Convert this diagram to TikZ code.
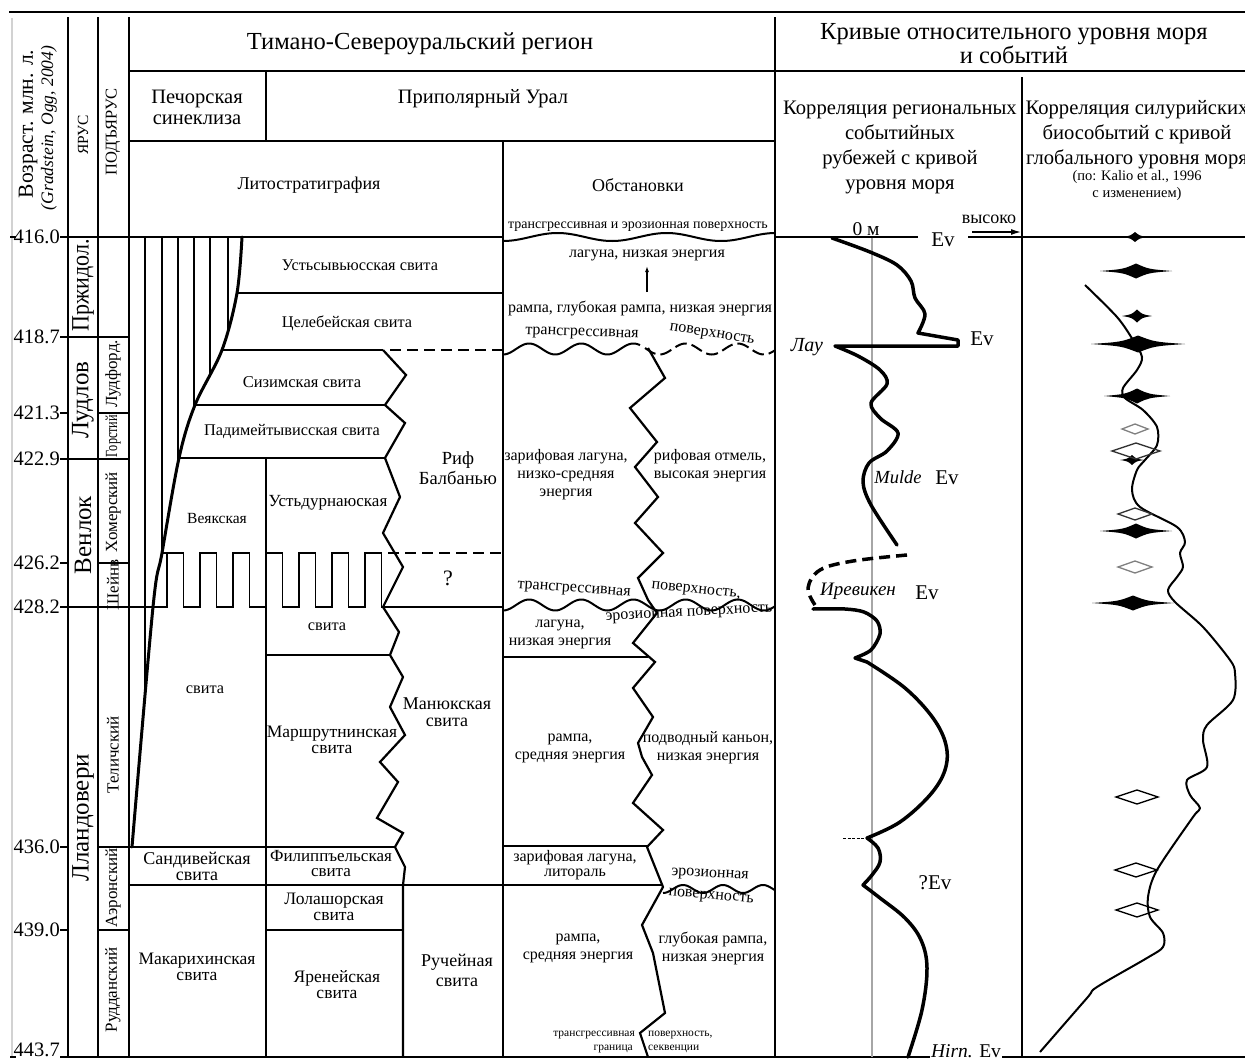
\documentclass[tikz,border=0pt]{standalone}
\usepackage{fontspec}
\setmainfont{Liberation Serif}
\usepackage{graphicx}
\usetikzlibrary{arrows.meta}
\newcommand\fsz[2]{\fontsize{#1}{#2}\selectfont}
\newcommand\lensF[4]{\fill ({#1-#3},#2) .. controls ({#1-0.35*#3},{#2-0.25*#4}) .. (#1,{#2-#4}) .. controls ({#1+0.35*#3},{#2-0.25*#4}) .. ({#1+#3},#2) .. controls ({#1+0.35*#3},{#2+0.25*#4}) .. (#1,{#2+#4}) .. controls ({#1-0.35*#3},{#2+0.25*#4}) .. cycle;}
\newcommand\lensO[5]{\draw[#5, line width=1.3pt, line join=miter] ({#1-#3},#2) -- (#1,{#2-#4}) -- ({#1+#3},#2) -- (#1,{#2+#4}) -- cycle;}
\begin{document}
\begin{tikzpicture}[x=1pt,y=-1pt,
  bl/.style={line width=2pt},
  hatch/.style={line width=1.2pt},
  thk/.style={line width=3pt, line join=round, line cap=round},
  zz/.style={line width=2.2pt, line join=miter},
  dsh/.style={line width=2pt, dash pattern=on 11pt off 6pt},
  sea/.style={line width=3.5pt, line join=round, line cap=round},
  glob/.style={line width=2pt, line join=round},
  t/.style={inner sep=0pt, align=center, font=\fsz{16.3}{17}},
  tl/.style={inner sep=0pt, align=center, font=\fsz{17.5}{16}},
  hd/.style={inner sep=0pt, align=center, font=\fsz{20.5}{21}},
  age/.style={inner sep=0pt, anchor=east, font=\fsz{20.5}{20.5}},
  st/.style={inner sep=0pt, rotate=90, font=\fsz{25}{25}},
  sst/.style={inner sep=0pt, rotate=90, font=\fsz{17}{17}},
  ev/.style={inner sep=0pt, font=\fsz{21}{21}},
  evi/.style={inner sep=0pt, font=\fsz{19}{19}\itshape},
  ob/.style={inner sep=0pt, align=center, font=\fsz{16}{18}}
]
\clip (0,0) rectangle (1245,1060);
\fill[white] (0,0) rectangle (1245,1060);

% ---------- frame ----------
\draw[gray!35, line width=2.5pt] (12,18) -- (12,1057);
\draw[bl] (9,12) -- (1245,12);
\foreach \xx in {68,98,129,775} \draw[bl] (\xx,17) -- (\xx,1057);
\draw[bl] (129,71) -- (1245,71);
\draw[bl] (129,141) -- (775,141);
\draw[bl] (266,71) -- (266,141);
\draw[bl] (503,141) -- (503,1057);
\draw[bl] (1022,77) -- (1022,1057);
\draw[bl] (60,1057) -- (1245,1057);
\draw[bl] (10,237) -- (16,237);
\draw[bl] (10,1057) -- (16,1057);

% age ticks and stage lines
\draw[bl] (60,237) -- (503,237);
\draw[bl] (60,337) -- (129,337);
\draw[bl] (60,413) -- (68,413) (98,413) -- (129,413);
\draw[bl] (60,459) -- (129,459);
\draw[bl] (60,563) -- (68,563) (98,563) -- (129,563);
\draw[bl] (60,607) -- (153,607);
\draw[bl] (60,847) -- (68,847) (98,847) -- (395,847);
\draw[bl] (60,930) -- (68,930) (98,930) -- (129,930);

% ---------- header texts ----------
\node[inner sep=0pt, font=\fsz{24.5}{24.5}] (hT) at (420,44) {Тимано-Североуральский регион};
\node[inner sep=0pt, align=center, font=\fsz{24.5}{22}] (hK) at (1014,44) {Кривые относительного уровня моря\\и событий};
\node[hd] (hPe) at (197,107) {Печорская\\синеклиза};
\node[hd] (hPr) at (483,99) {Приполярный Урал};
\node[inner sep=0pt, font=\fsz{18}{18}] (hL) at (309,185) {Литостратиграфия};
\node[inner sep=0pt, font=\fsz{18}{18}] (hO) at (638,185) {Обстановки};
\node[inner sep=0pt, align=center, font=\fsz{20.6}{25}] (hR) at (900,147) {Корреляция региональных\\событийных\\рубежей с кривой\\уровня моря};
\node[inner sep=0pt, align=center, font=\fsz{20.6}{25}] (hG) at (1137,135) {Корреляция силурийских\\биособытий с кривой\\глобального уровня моря};
\node[inner sep=0pt, align=center, font=\fsz{14.5}{17}] (hG2) at (1137,186) {(по: Kalio et al., 1996\\с изменением)};
\node[inner sep=0pt, rotate=90, font=\fsz{21.5}{21.5}] (hV1) at (28,124) {Возраст. млн. л.};
\node[inner sep=0pt, rotate=90, font=\fsz{17.5}{17.5}\itshape] (hV2) at (49,128) {(Gradstein, Ogg, 2004)};
\node[inner sep=0pt, rotate=90, font=\fsz{15.5}{15.5}] (hY) at (83,135) {ЯРУС};
\node[inner sep=0pt, rotate=90, font=\fsz{16.5}{16.5}] (hPY) at (113,132) {ПОДЪЯРУС};

% ---------- ages ----------
\node[age] (a1) at (60,237) {416.0};
\node[age] (a2) at (60,337) {418.7};
\node[age] (a3) at (60,413) {421.3};
\node[age] (a4) at (60,459) {422.9};
\node[age] (a5) at (60,563) {426.2};
\node[age] (a6) at (60,607) {428.2};
\node[age] (a7) at (60,847) {436.0};
\node[age] (a8) at (60,930) {439.0};
\node[age] (a9) at (60,1050) {443.7};

% ---------- stages ----------
\node[st] (s1) at (83,285) {\scalebox{0.88}[1]{Пржидол.}};
\node[st] (s2) at (83,400) {Лудлов};
\node[st] (s3) at (83,535) {Венлок};
\node[st] (s4) at (83,818) {Лландовери};
\node[sst] (u1) at (113,374) {Лудфорд.};
\node[sst] (u2) at (113,436) {\scalebox{0.72}[1]{Горстий}};
\node[sst] (u3) at (113,512) {Хомерский};
\node[sst] (u4) at (113,585) {Шейнв};
\node[sst] (u5) at (113,755) {Теличский};
\node[sst] (u6) at (113,888) {Аэронский};
\node[sst] (u7) at (113,990) {Рудданский};

% ---------- lithostratigraphy ----------
\begin{scope}
\clip (129,237) -- plot[smooth, tension=0.55] coordinates {(242,237) (237,293) (222,350) (195,405) (179,458) (162,553) (153,607) (132,847)} -- (129,847) -- cycle;
\foreach \xx in {145,162,178,194,210,228} \draw[hatch] (\xx,237) -- (\xx,850);
\end{scope}
\draw[thk] plot[smooth, tension=0.55] coordinates {(242,237) (237,293) (222,350) (195,405) (179,458) (162,553) (153,607) (132,847)};

\draw[bl] (237,293) -- (503,293);
\draw[bl] (222,350) -- (383,350);
\draw[dsh] (390,350) -- (503,350);
\draw[bl] (195,405) -- (385,405);
\draw[bl] (179,458) -- (385,458);
\draw[bl] (266,458) -- (266,1057);
\draw[dsh] (388,553) -- (503,553);
\draw[hatch] (162,553) -- (167,553);
\draw[hatch, line join=miter] (153,607) -- (167,607)
  \foreach \i in {0,2,...,12} { -- ({167+16.5*\i},553) -- ({167+16.5*(\i+1)},553) -- ({167+16.5*(\i+1)},607) -- ({167+16.5*(\i+2)},607) };
\draw[bl] (383,607) -- (503,607);
\draw[bl] (266,655) -- (390,655);
\draw[bl] (129,885) -- (663,885);
\draw[bl] (266,930) -- (403,930);
\draw[zz] (383,350) -- (406,375) -- (385,405) -- (405,423) -- (385,458) -- (400,497) -- (383,533) -- (403,567) -- (383,607) -- (399,632) -- (390,655) -- (403,677) -- (390,707) -- (405,735) -- (380,762) -- (398,782) -- (377,818) -- (403,833) -- (395,847) -- (405,867) -- (403,885) -- (403,1057);

\node[t] (l1) at (360,265) {Устьсывьюсская свита};
\node[t] (l2) at (347,323) {Целебейская свита};
\node[t, font=\fsz{16.5}{17}] (l3) at (302,382) {Сизимская свита};
\node[t] (l4) at (292,431) {Падимейтывисская свита};
\node[inner sep=0pt, align=center, font=\fsz{18.5}{20}] (l5) at (458,468) {Риф\\Балбанью};
\node[t, font=\fsz{15.5}{16}] (l6) at (217,518) {Веякская};
\node[t, font=\fsz{17}{17}] (l7) at (328,503) {Устьдурнаюская};
\node[inner sep=0pt, font=\fsz{22}{22}] (l8) at (448,578) {?};
\node[t] (l9) at (327,627) {свита};
\node[t] (l10) at (205,690) {свита};
\node[tl] (l11) at (332,740) {Маршрутнинская\\свита};
\node[tl, font=\fsz{18}{17}] (l12) at (447,712) {Манюкская\\свита};
\node[tl, font=\fsz{18}{16}] (l13) at (197,866) {Сандивейская\\свита};
\node[tl, font=\fsz{17}{15}] (l14) at (331,864) {Филиппъельская\\свита};
\node[tl] (l15) at (334,907) {Лолашорская\\свита};
\node[tl] (l16) at (197,967) {Макарихинская\\свита};
\node[tl] (l17) at (337,985) {Яренейская\\свита};
\node[tl, font=\fsz{18}{20}] (l18) at (457,970) {Ручейная\\свита};

% ---------- obstanovki ----------
\draw[bl] plot[domain=503:775, samples=150] (\x,{237+4*sin(3.3*(\x-503)+90)});
\draw[bl] plot[domain=503:640, samples=120] (\x,{349+5.5*sin(6.9*(\x-503)+90)});
\draw[bl, dash pattern=on 12pt off 5pt] plot[domain=645:775, samples=120] (\x,{349+5.5*sin(6.9*(\x-503)+90)});
\draw[bl] plot[domain=503:775, samples=160] (\x,{605+5.5*sin(6.9*(\x-503)+90)});
\draw[bl] plot[domain=663:775, samples=80] (\x,{889+4*sin(9*(\x-663)+90)});
\draw[bl] (503,657) -- (648,657);
\draw[bl] (503,846) -- (647,846);
\draw[zz] (648,348) -- (665,378) -- (630,408) -- (657,442) -- (635,467) -- (658,497) -- (635,523) -- (663,553) -- (638,578) -- (648,600) -- (657,613) -- (633,643) -- (655,662) -- (633,688) -- (653,717) -- (638,743) -- (642,757) -- (652,775) -- (633,803) -- (663,830) -- (647,847) -- (663,887) -- (642,925) -- (653,953) -- (665,1013) -- (640,1033) -- (648,1057);

\node[inner sep=0pt, font=\fsz{14}{14}] (o0) at (638,227) {трансгрессивная и эрозионная поверхность};
\node[ob] (o1) at (647,255) {лагуна, низкая энергия};
\coordinate (ar1) at (647,292);
\coordinate (ar2) at (647,266);
\draw[line width=1.2pt, -{Latex[length=6pt,width=4pt]}] (ar1) -- (ar2);
\node[ob] (o2) at (640,308) {рампа, глубокая рампа, низкая энергия};
\node[ob, rotate=-2] (o3) at (582,334) {трансгрессивная};
\node[ob, rotate=-9] (o4) at (712,335) {поверхность};
\node[ob] (o5) at (566,475) {зарифовая лагуна,\\низко-средняя\\энергия};
\node[ob] (o6) at (710,466) {рифовая отмель,\\высокая энергия};
\node[ob, rotate=-4] (o7) at (574,590) {трансгрессивная};
\node[ob, rotate=-6] (o8) at (696,591) {поверхность,};
\node[ob, rotate=3] (o9) at (689,614) {эрозионная поверхность};
\node[ob] (o10) at (560,634) {лагуна,\\низкая энергия};
\node[ob] (o11) at (570,748) {рампа,\\средняя энергия};
\node[ob] (o12) at (708,748) {подводный каньон,\\низкая энергия};
\node[ob, font=\fsz{16}{15}] (o13) at (575,865) {зарифовая лагуна,\\литораль};
\node[ob, rotate=-3] (o14) at (710,875) {эрозионная};
\node[ob, rotate=-5] (o15) at (711,897) {поверхность};
\node[ob] (o16) at (578,948) {рампа,\\средняя энергия};
\node[ob] (o17) at (713,948) {глубокая рампа,\\низкая энергия};
\node[inner sep=0pt, anchor=east, font=\fsz{11.5}{12}] (o18) at (635,1035) {трансгрессивная};
\node[inner sep=0pt, anchor=west, font=\fsz{11.5}{12}] (o19) at (648,1035) {поверхность,};
\node[inner sep=0pt, anchor=east, font=\fsz{11.5}{12}] (o20) at (633,1049) {граница};
\node[inner sep=0pt, anchor=west, font=\fsz{11.5}{12}] (o21) at (648,1049) {секвенции};

% ---------- curves ----------
\draw[gray!70, line width=1.2pt] (872,238) -- (872,1057);
\draw[bl] (775,237) -- (918,237);
\draw[bl] (968,237) -- (1245,237);
\coordinate (hi1) at (972,232);
\coordinate (hi2) at (1021,232);
\draw[line width=1.3pt, -{Latex[length=10pt,width=6pt]}] (hi1) -- (hi2);
\node[inner sep=0pt, font=\fsz{19.5}{19.5}] (z0) at (866,229) {0 м};
\node[inner sep=0pt, font=\fsz{18}{18}] (hiT) at (989,219) {высоко};
\node[ev] (e0) at (943,240) {Ev};

\draw[sea] plot[smooth, tension=0.55] coordinates {(832,238) (870,252) (897,265) (911,281) (915,298) (925,314) (918,333)} -- (958,340) -- (958,346) -- (835,346) -- plot[smooth, tension=0.55] coordinates {(835,346) (858,356) (880,370) (887,384) (871,403) (880,418) (898,433) (887,451) (869,463) (863,482) (871,505) (897,545)};
\draw[sea, line cap=butt, dash pattern=on 11pt off 6pt] plot[smooth, tension=0.6] coordinates {(907,555) (853,561) (820,570) (808,588) (815,605)};
\draw[sea] plot[smooth, tension=0.5] coordinates {(813,609) (845,609) (864,612) (877,621) (880,634) (871,650) (855,658)} -- (867,662) -- plot[smooth, tension=0.6] coordinates {(867,662) (905,688) (933,718) (946,745) (945,770) (930,795) (900,822) (867,838)} -- plot[smooth, tension=0.6] coordinates {(867,838) (878,848) (880,862) (872,875) (863,885)} -- plot[smooth, tension=0.6] coordinates {(863,885) (880,898) (905,918) (921,940) (927,968) (922,1010) (908,1057)};
\draw[line width=1pt, dash pattern=on 3pt off 1.5pt] (843,838) -- (866,838);

\node[evi, font=\fsz{20}{20}\itshape] (n1) at (807,347) {Лау};
\node[ev] (e1) at (982,339) {Ev};
\node[evi, font=\fsz{18.5}{18.5}\itshape] (n2) at (898,477) {Mulde};
\node[ev] (e2) at (947,478) {Ev};
\node[evi] (n3) at (858,591) {Иревикен};
\node[ev] (e3) at (927,593) {Ev};
\node[ev] (e4) at (935,883) {?Ev};
\node[fill=white, inner sep=1.5pt, font=\fsz{19.5}{19.5}] (e5) at (966,1051) {\textit{Hirn.} Ev};

\draw[glob] plot[smooth, tension=0.5] coordinates {(1085,285) (1117,317) (1133,340) (1142,357) (1137,370) (1123,388) (1125,398) (1143,410) (1157,427) (1157,445) (1145,460) (1137,470) (1132,490) (1140,507) (1177,527) (1185,542) (1180,553) (1183,567) (1177,577) (1168,590) (1175,602) (1203,627) (1230,660) (1235,673) (1233,700) (1207,725) (1203,740) (1207,767) (1187,780) (1190,795) (1200,808) (1193,817) (1157,870) (1148,897) (1150,917) (1163,933) (1163,947) (1147,958) (1097,987) (1087,998) (1040,1052)};

\lensF{1135}{237}{13}{5}
\lensF{1136}{271}{36}{7.5}
\lensF{1137}{316}{15}{6.5}
\lensF{1138}{344}{47}{8.5}
\lensF{1137}{396}{33}{7.5}
\lensO{1135}{429}{13}{5}{gray}
\lensF{1132}{460}{12}{5}
\lensO{1136}{451}{24}{8}{black!80}
\lensO{1135}{514}{17}{6}{black!80}
\lensF{1136}{531}{36}{7.5}
\lensO{1135}{567}{17}{6}{gray}
\lensF{1133}{603}{41}{7.5}
\lensO{1137}{797}{21}{7}{black}
\lensO{1136}{870}{21}{7}{black}
\lensO{1137}{910}{21}{7}{black}
\end{tikzpicture}
\end{document}
